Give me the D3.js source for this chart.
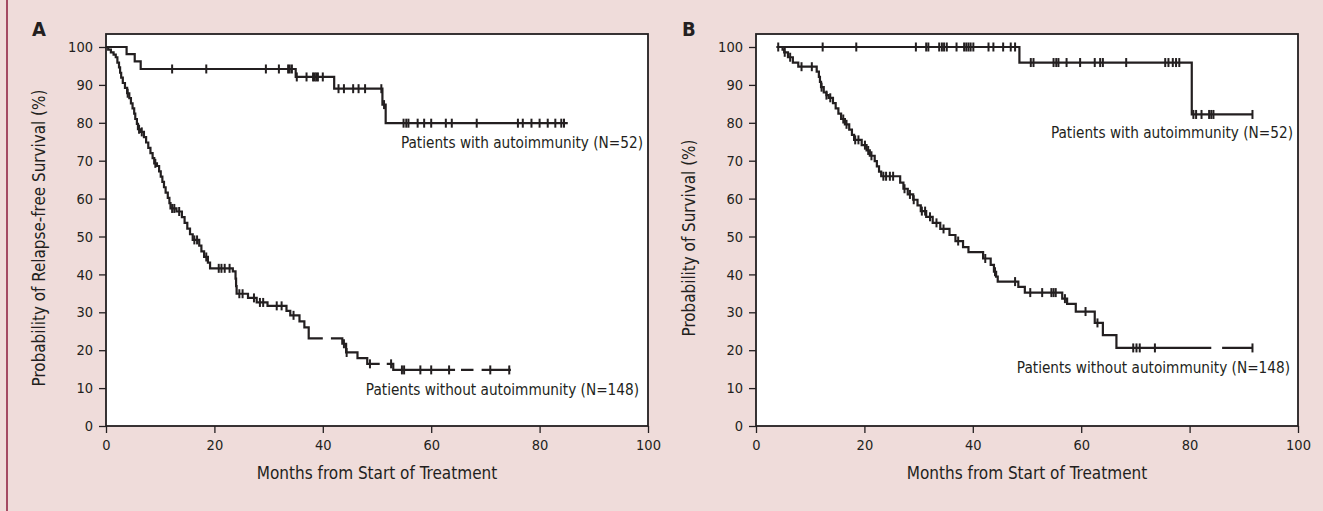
<!DOCTYPE html>
<html>
<head>
<meta charset="utf-8">
<script src="https://cdn.jsdelivr.net/npm/d3@7"></script>
<style>
  body { margin: 0; background: #efdcda; }
  svg { display: block; }
  text { font-family: "DejaVu Sans Condensed", "Liberation Sans Narrow", sans-serif; fill: #231f20; }
</style>
</head>
<body>
<script>
// axis ticks
var monthTicks = [0, 20, 40, 60, 80, 100];
var pctTicks = [0, 10, 20, 30, 40, 50, 60, 70, 80, 90, 100];

// ---- panel A : relapse-free survival ----
var aWithT = [0, 3.8, 5.3, 6.4, 35.0, 42.1, 51.0, 51.6];
var aWithS = [100, 98.1, 96.2, 94.2, 92.1, 89.0, 84.8, 79.9];
var aWithEnd = 85.2;
var aWithCens = [12.2, 18.5, 29.5, 31.9, 33.6, 33.9, 34.3, 35.2, 37.0, 38.2, 38.5, 38.8, 39.1, 40.0,
    42.9, 43.9, 45.6, 46.6, 47.8, 50.8, 51.3, 54.9, 55.4, 55.8, 57.5, 58.7, 60.0, 62.7, 63.8, 68.4,
    76.0, 76.9, 78.5, 80.0, 81.5, 82.9, 84.0, 84.5];
var aWithGaps = [];

var aWithoutT = [0, 0.4, 0.9, 1.4, 1.8, 2.1, 2.4, 2.6, 2.8, 3.1, 3.5, 3.9, 4.3, 4.6, 4.9, 5.2, 5.4, 5.7, 5.9,
    6.3, 7.0, 7.4, 7.8, 8.2, 8.6, 8.9, 9.4, 9.8, 10.1, 10.4, 10.7, 11.0, 11.4, 11.7, 11.9, 13.0,
    14.0, 14.5, 15.0, 15.5, 16.0, 17.2, 17.6, 18.1, 18.8, 19.2, 23.4, 23.9, 24.0, 24.1, 26.2, 27.8,
    29.8, 33.3, 34.0, 35.7, 36.6, 37.4, 43.6, 44.3, 46.4, 48.2, 53.0];
var aWithoutS = [100, 99.3, 98.6, 98.0, 97.3, 95.9, 94.6, 93.2, 91.9, 90.5, 89.2, 87.8, 86.5, 85.1, 83.8, 82.4, 81.0, 79.7, 78.3,
    77.6, 76.2, 74.8, 73.4, 72.0, 70.7, 69.3, 68.6, 67.2, 65.8, 64.4, 63.0, 61.6, 60.2, 58.8, 57.4, 56.6,
    55.1, 53.6, 52.1, 50.6, 49.1, 47.6, 46.1, 44.6, 43.1, 41.6, 40.8, 38.9, 36.9, 34.9, 33.8, 32.6,
    31.7, 30.4, 29.2, 27.6, 26.0, 23.1, 21.7, 19.4, 17.9, 16.4, 14.8];
var aWithoutEnd = 74.7;
var aWithoutCens = [4.0, 6.1, 6.6, 9.1, 12.2, 12.6, 13.5, 16.3, 16.8, 18.5, 20.8, 21.3, 21.9, 22.8, 24.6, 25.2,
    27.3, 28.4, 29.0, 31.5, 32.4, 34.6, 43.9, 44.4, 48.7, 52.6, 54.6, 55.0, 58.0, 60.0, 63.3, 70.9, 74.4];
var aWithoutGaps = [[40.0, 41.5], [50.5, 51.8], [64.4, 65.5], [67.8, 69.3]];

// ---- panel B : overall survival ----
var bWithT = [3.8, 48.6, 80.4];
var bWithS = [100, 95.9, 82.2];
var bWithEnd = 91.6;
var bWithCens = [4.1, 12.3, 18.5, 29.5, 31.4, 31.8, 33.8, 34.3, 34.7, 35.2, 37.0, 38.4, 38.8, 39.2, 39.6, 40.1,
    42.9, 43.8, 45.6, 47.0, 47.8, 50.7, 51.2, 54.9, 55.4, 55.8, 57.3, 59.8, 62.5, 63.5, 64.0, 68.3,
    75.5, 76.1, 76.9, 77.5, 78.1, 80.7, 81.2, 82.2, 83.6, 84.0, 84.4, 91.6];
var bWithGaps = [];

var bWithoutT = [3.8, 4.9, 5.2, 5.9, 6.8, 7.8, 11.2, 11.6, 11.8, 12.0, 12.5, 13.0, 13.4, 14.2, 14.7, 15.2, 15.7,
    16.4, 17.2, 17.7, 18.1, 19.5, 20.4, 21.0, 21.9, 22.3, 22.7, 23.1, 26.6, 27.2, 28.0, 29.0, 29.8,
    30.4, 31.4, 32.6, 34.0, 35.7, 36.8, 38.2, 39.2, 41.9, 43.3, 43.9, 44.3, 44.6, 48.4, 49.6, 56.5,
    57.4, 59.0, 62.5, 64.0, 66.5];
var bWithoutS = [100, 99.3, 98.6, 97.3, 95.9, 94.8, 93.5, 92.1, 90.8, 89.4, 88.0, 87.3, 86.6, 85.2, 83.8, 82.4, 81.0,
    79.6, 78.2, 76.8, 75.5, 74.1, 72.7, 71.3, 69.9, 68.5, 67.1, 65.9, 64.2, 62.6, 61.1, 59.7, 58.2,
    56.7, 55.2, 53.6, 52.0, 50.4, 48.8, 47.2, 45.9, 44.2, 42.5, 40.7, 39.4, 38.1, 36.7, 35.2, 33.6,
    32.2, 30.2, 27.2, 24.0, 20.6];
var bWithoutEnd = 91.6;
var bWithoutCens = [5.3, 6.3, 8.4, 10.3, 12.1, 13.0, 13.7, 16.1, 16.7, 18.3, 18.9, 20.1, 20.7, 21.3, 23.5, 24.0,
    24.7, 25.3, 27.4, 28.4, 29.1, 30.6, 31.2, 32.1, 33.3, 34.6, 37.3, 42.3, 44.1, 47.8, 50.6, 52.8,
    54.5, 54.9, 55.3, 57.0, 60.8, 63.0, 69.6, 70.2, 70.8, 73.6, 91.6];
var bWithoutGaps = [[84.0, 86.0]];

var labelWith = "Patients with autoimmunity (N=52)";
var labelWithout = "Patients without autoimmunity (N=148)";

var W = 1323, H = 511;
var svg = d3.select('body').append('svg')
    .attr('width', W)
    .attr('height', H);

svg.append('rect').attr('width', W).attr('height', H).attr('fill', '#efdcda');
svg.append('line').attr('x1', 7).attr('x2', 7).attr('y1', 0).attr('y2', H)
    .attr('stroke', '#8b1a3b').attr('stroke-width', 1.5);

// step function vertices, with blank pieces where the printed line is broken
function stepPoints(times, surv, end, gaps) {
    var pts = [];
    times.forEach(function (t, i) {
        if (i > 0) pts.push([t, surv[i - 1]]);
        pts.push([t, surv[i]]);
    });
    pts.push([end, surv[surv.length - 1]]);
    var out = [];
    for (var k = 0; k < pts.length; k++) {
        out.push(pts[k]);
        var nx = pts[k + 1];
        if (nx && nx[1] === pts[k][1]) {
            gaps.filter(function (g) { return g[0] > pts[k][0] && g[1] < nx[0]; })
                .forEach(function (g) {
                    out.push([g[0], pts[k][1]], null, [g[1], pts[k][1]]);
                });
        }
    }
    return out;
}

function survAt(times, surv, t) {
    var i = d3.bisectRight(times, t) - 1;
    return surv[Math.max(i, 0)];
}

function draw_panel(left, letter, yTitle, curves, labels) {
    var x = d3.scaleLinear().domain([0, 100]).range([left, left + 542]);
    var y = d3.scaleLinear().domain([0, 100]).range([426, 47]);
    var g = svg.append('g');

    g.append('rect')
        .attr('x', x(0)).attr('y', 34)
        .attr('width', x(100) - x(0)).attr('height', y(0) - 34)
        .attr('fill', '#fff').attr('stroke', '#231f20').attr('stroke-width', 1.8);

    var ya = g.append('g').attr('transform', 'translate(' + x(0) + ',0)')
        .call(d3.axisLeft(y).tickValues(pctTicks).tickSize(7).tickPadding(6));
    var xa = g.append('g').attr('transform', 'translate(0,' + y(0) + ')')
        .call(d3.axisBottom(x).tickValues(monthTicks).tickSize(7).tickPadding(7));
    [ya, xa].forEach(function (a) {
        a.select('.domain').remove();
        a.selectAll('line').attr('stroke', '#231f20').attr('stroke-width', 1.3);
        a.selectAll('text').attr('font-size', 14.5).attr('fill', '#231f20')
            .style('font-family', '"DejaVu Sans Condensed", "Liberation Sans Narrow", sans-serif');
    });

    g.append('text').attr('x', left - 74).attr('y', 36)
        .attr('font-size', 20).attr('font-weight', 'bold').text(letter);

    g.append('text')
        .attr('transform', 'translate(' + (left - 61) + ',' + 238 + ') rotate(-90)')
        .attr('text-anchor', 'middle').attr('font-size', 16.9)
        .text(yTitle);
    g.append('text').attr('x', x(50)).attr('y', 479)
        .attr('text-anchor', 'middle').attr('font-size', 17)
        .text('Months from Start of Treatment');

    var line = d3.line()
        .defined(function (d) { return d; })
        .x(function (d) { return x(d[0]); })
        .y(function (d) { return y(d[1]); });

    curves.forEach(function (c) {
        g.append('path')
            .datum(stepPoints(c.t, c.s, c.end, c.gaps))
            .attr('d', line)
            .attr('fill', 'none').attr('stroke', '#231f20').attr('stroke-width', 2.2);
        g.selectAll(null)
            .data(c.cens)
            .enter()
            .append('line')
            .attr('x1', function (d) { return x(d); })
            .attr('x2', function (d) { return x(d); })
            .attr('y1', function (d) { return y(survAt(c.t, c.s, d)) - 4.5; })
            .attr('y2', function (d) { return y(survAt(c.t, c.s, d)) + 4.5; })
            .attr('stroke', '#231f20').attr('stroke-width', 2);
    });

    labels.forEach(function (l) {
        g.append('text').attr('x', l.x).attr('y', l.y)
            .attr('text-anchor', 'end').attr('font-size', 15.2)
            .text(l.text);
    });
}

draw_panel(106, 'A', 'Probability of Relapse-free Survival (%)',
    [{ t: aWithT, s: aWithS, end: aWithEnd, cens: aWithCens, gaps: aWithGaps },
     { t: aWithoutT, s: aWithoutS, end: aWithoutEnd, cens: aWithoutCens, gaps: aWithoutGaps }],
    [{ x: 643, y: 148, text: labelWith }, { x: 639, y: 395, text: labelWithout }]);

draw_panel(756, 'B', 'Probability of Survival (%)',
    [{ t: bWithT, s: bWithS, end: bWithEnd, cens: bWithCens, gaps: bWithGaps },
     { t: bWithoutT, s: bWithoutS, end: bWithoutEnd, cens: bWithoutCens, gaps: bWithoutGaps }],
    [{ x: 1293, y: 138, text: labelWith }, { x: 1290, y: 373, text: labelWithout }]);
</script>
</body>
</html>
